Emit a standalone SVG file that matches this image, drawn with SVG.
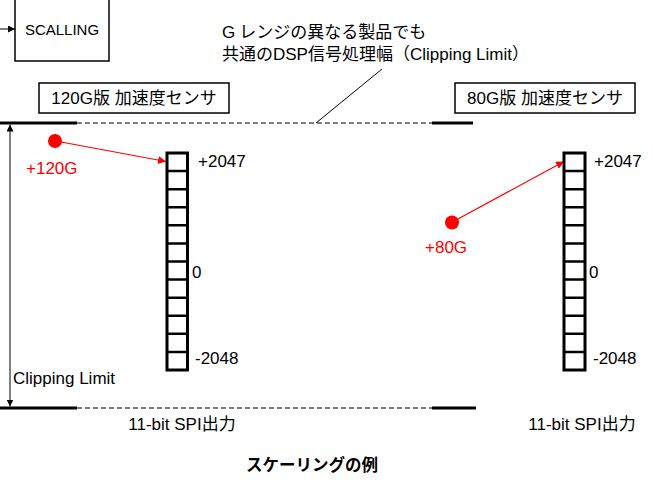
<svg xmlns="http://www.w3.org/2000/svg" width="653" height="484" viewBox="0 0 653 484">
<defs>
<style>
text{font-family:"Liberation Sans","Noto Sans CJK JP",sans-serif;fill:#000}
.t17{font-size:17px}
.t15{font-size:15px}
.red{fill:#ff0000}
.box{fill:#fff;stroke:#000;stroke-width:1.5}
.bar{fill:#fff;stroke:#000;stroke-width:3}
.cell{stroke:#000;stroke-width:2.5}
.thick{stroke:#000;stroke-width:3}
.dash{stroke:#000;stroke-width:1;stroke-dasharray:5,3}
.ln{stroke:#000;stroke-width:1;fill:none}
.rarrow{stroke:#ff0000;stroke-width:1.2;fill:none}
</style>
<marker id="ah" viewBox="0 0 10 10" refX="10" refY="5" markerWidth="7" markerHeight="7" orient="auto-start-reverse" markerUnits="userSpaceOnUse"><path d="M0,0 L10,5 L0,10 z" fill="#000"/></marker>
<marker id="rah" viewBox="0 0 10 10" refX="10" refY="5" markerWidth="8" markerHeight="8" orient="auto" markerUnits="userSpaceOnUse"><path d="M0,0 L10,5 L0,10 z" fill="#ff0000"/></marker>
</defs>

<g id="connectors">
<line x1="0" y1="29" x2="15" y2="29" class="ln" marker-end="url(#ah)"/>
<line x1="0" y1="123" x2="77" y2="123" class="thick"/>
<line x1="77" y1="123" x2="432" y2="123" class="dash"/>
<line x1="432" y1="123" x2="473" y2="123" class="thick"/>
<line x1="0" y1="408" x2="77" y2="408" class="thick"/>
<line x1="77" y1="408" x2="432" y2="408" class="dash"/>
<line x1="432" y1="408" x2="476" y2="408" class="thick"/>
<line x1="10" y1="124.5" x2="10" y2="406.5" class="ln" marker-start="url(#ah)" marker-end="url(#ah)"/>
<line x1="382" y1="69" x2="316" y2="123" class="ln"/>
<line x1="61" y1="142" x2="166" y2="161.5" class="rarrow" marker-end="url(#rah)"/>
<line x1="457" y1="219.5" x2="564" y2="161.5" class="rarrow" marker-end="url(#rah)"/>
</g>

<g id="scalling">
<rect x="15" y="-1" width="94" height="62" class="box"/>
<text x="62" y="35" class="t15" text-anchor="middle">SCALLING</text>
</g>

<g id="note">
<text x="222" y="38" class="t17">G<tspan dx="4">レンジの異なる製品でも</tspan></text>
<text x="222" y="60" class="t17">共通のDSP信号処理幅（Clipping Limit）</text>
</g>

<g id="label120">
<rect x="39" y="83" width="190" height="30" class="box"/>
<text x="134" y="104" class="t17" text-anchor="middle">120G版 加速度センサ</text>
</g>

<g id="label80">
<rect x="455" y="83" width="180" height="30" class="box"/>
<text x="545" y="104" class="t17" text-anchor="middle">80G版 加速度センサ</text>
</g>

<g id="dot120">
<circle cx="55" cy="141" r="7" fill="#ff0000"/>
<text x="26" y="174" class="t17 red">+120G</text>
</g>

<g id="dot80">
<circle cx="452" cy="222.5" r="7" fill="#ff0000"/>
<text x="425" y="253" class="t17 red">+80G</text>
</g>

<g id="bar120">
<rect x="167" y="153" width="20.5" height="217" class="bar"/>
<path d="M167,171.1H187.5M167,189.2H187.5M167,207.3H187.5M167,225.3H187.5M167,243.4H187.5M167,261.5H187.5M167,279.6H187.5M167,297.7H187.5M167,315.8H187.5M167,333.8H187.5M167,351.9H187.5" class="cell"/>
<text x="198" y="167" class="t17">+2047</text>
<text x="192" y="278" class="t17">0</text>
<text x="195" y="364" class="t17">-2048</text>
</g>

<g id="bar80">
<rect x="564" y="153" width="21" height="217" class="bar"/>
<path d="M564,171.1H585M564,189.2H585M564,207.3H585M564,225.3H585M564,243.4H585M564,261.5H585M564,279.6H585M564,297.7H585M564,315.8H585M564,333.8H585M564,351.9H585" class="cell"/>
<text x="594" y="167" class="t17">+2047</text>
<text x="589" y="278" class="t17">0</text>
<text x="593" y="364" class="t17">-2048</text>
</g>

<g id="texts">
<text x="13" y="384" class="t17">Clipping Limit</text>
<text x="182" y="430" class="t17" text-anchor="middle">11-bit SPI出力</text>
<text x="582" y="430" class="t17" text-anchor="middle">11-bit SPI出力</text>
<text x="312" y="471" font-size="16.5" text-anchor="middle" font-weight="bold">スケーリングの例</text>
</g>
</svg>
